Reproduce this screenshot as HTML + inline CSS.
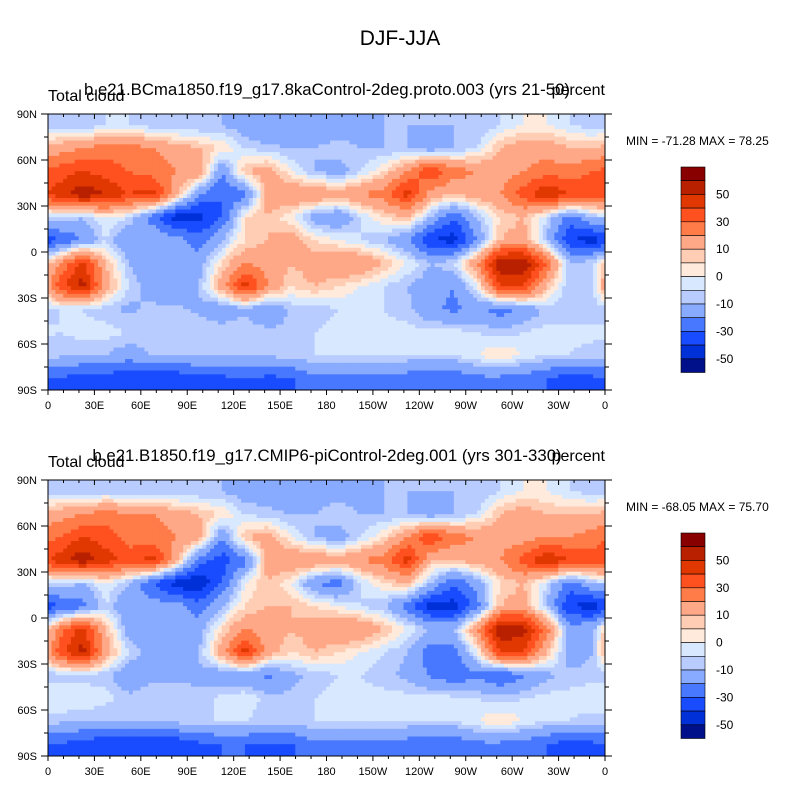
<!DOCTYPE html>
<html><head><meta charset="utf-8">
<style>
body{margin:0;background:#fff;}
svg text{font-family:"Liberation Sans",sans-serif;fill:#000;}
</style></head>
<body>
<svg id="fig" width="800" height="800" viewBox="0 0 800 800">
<defs>
<clipPath id="c1"><rect x="48" y="114" width="557" height="276"/></clipPath>
<clipPath id="c2"><rect x="48" y="480" width="557" height="276"/></clipPath>
</defs>
<text x="400" y="45" font-size="21" text-anchor="middle">DJF-JJA</text>
<g id="p1"></g>
<g id="p2"></g>
</svg>
<script>
const NS="http://www.w3.org/2000/svg";
const levels=[-50,-40,-30,-20,-10,-5,0,5,10,20,30,40,50,60];
const colors=["#00108a","#0030d8","#1a4cff","#4878ff","#88aaff","#b8ccff","#d8e8ff","#ffeadc","#ffccb4","#ffa888","#ff7b48","#ff5020","#e03800","#b82000","#880000"];
const lonTicks=["0","30E","60E","90E","120E","150E","180","150W","120W","90W","60W","30W","0"];
const latTicks=["90N","60N","30N","0","30S","60S","90S"];
const lats=[82.5,67.5,52.5,37.5,22.5,7.5,-7.5,-22.5,-37.5,-52.5,-67.5,-82.5];
const gridA=[
[-8,-10,-5,-5,-8,-10,-10,-10,-15,-20,-20,-20,-20,-15,-10,-10,-10,-10,-10,-5,0,0,-5,-8],
[15,20,25,25,20,15,10,5,-5,-8,-10,-10,-5,-10,-10,-10,-15,-10,-5,10,15,15,10,10],
[35,40,35,30,25,20,20,-20,10,15,0,-10,-15,-5,5,20,40,25,20,15,20,25,25,30],
[45,58,50,40,45,15,-20,-30,-25,15,20,20,15,20,25,45,15,10,15,20,35,50,40,35],
[-5,-10,0,-5,-25,-45,-45,-30,5,10,0,-15,-20,-5,5,10,-10,-30,-10,5,10,-5,-25,-10],
[-30,-20,-5,-20,-10,-15,-25,-10,5,10,15,5,0,-5,-10,-20,-40,-45,-20,10,15,-10,-40,-45],
[20,45,10,-10,-20,-10,-15,5,20,15,10,15,20,20,10,0,-10,-5,20,60,60,30,-10,-5],
[35,55,15,-5,-15,-20,-10,15,45,20,5,10,5,0,-5,-10,-15,-20,0,40,40,10,-10,-5],
[-5,-5,-8,-12,-8,-8,-12,-18,-12,-20,-8,-8,-5,-5,-5,-8,-18,-22,-18,-25,-18,-8,-8,-8],
[-5,-3,-3,-5,-5,-5,-5,-5,-5,-8,-8,-5,-3,-3,-3,-3,-3,-3,-5,-8,-5,-3,-3,-3],
[-8,-10,-10,-15,-10,-10,-10,-10,-10,-10,-5,-5,-5,-5,-5,-5,-5,-5,0,5,0,-5,-5,-8],
[-30,-35,-35,-38,-38,-38,-32,-32,-30,-32,-32,-22,-22,-22,-22,-25,-28,-28,-22,-22,-25,-30,-35,-32]];
const gridB=[
[-8,-10,-8,-8,-10,-10,-10,-10,-15,-15,-20,-15,-15,-15,-10,-10,-10,-10,-10,-5,0,0,-5,-8],
[15,20,25,20,20,15,10,5,-5,-8,-10,-10,-5,-10,-10,-10,-15,-10,-5,10,15,10,10,10],
[30,40,35,25,25,20,15,-20,10,15,0,-10,-15,-5,5,20,40,25,20,15,15,20,20,25],
[45,58,45,35,45,15,-25,-35,-25,15,20,20,15,20,25,45,10,10,15,20,35,50,40,35],
[-5,-10,0,-10,-30,-45,-50,-30,0,10,0,-20,-25,-5,5,10,-10,-30,-15,5,10,-5,-25,-10],
[-30,-25,-5,-20,-15,-15,-25,-10,5,10,10,5,0,-5,-10,-25,-45,-45,-25,10,15,-10,-40,-45],
[25,45,10,-15,-20,-10,-15,5,20,15,10,15,20,20,10,0,-10,-10,20,60,55,25,-15,-10],
[35,55,15,-5,-15,-20,-10,15,45,15,5,10,5,0,-5,-10,-25,-25,0,40,40,10,-15,-10],
[-8,-8,-8,-18,-12,-12,-12,-18,-18,-22,-12,-8,-5,-5,-8,-12,-22,-28,-22,-30,-22,-12,-8,-8],
[0,0,-3,-8,-5,-5,-8,-3,0,-8,-8,-5,-3,-3,-3,-3,-3,-3,-5,-8,-5,-3,-3,0],
[-8,-10,-10,-10,-10,-8,-5,-5,-5,-8,-5,-5,-5,-5,-5,-5,-5,-5,0,5,0,-5,-5,-8],
[-30,-35,-38,-38,-38,-38,-32,-30,-30,-32,-32,-22,-22,-22,-22,-25,-28,-28,-22,-22,-25,-30,-35,-32]];
const subtitles=["b.e21.BCma1850.f19_g17.8kaControl-2deg.proto.003 (yrs 21-50)","b.e21.B1850.f19_g17.CMIP6-piControl-2deg.001 (yrs 301-330)"];
const minmax=["MIN = -71.28 MAX =  78.25","MIN = -68.05 MAX =  75.70"];
const cbLabels=[50,30,10,0,-10,-30,-50];

function colorFor(v){let i=0;while(i<levels.length&&v>=levels[i])i++;return colors[i];}
function el(tag,attrs,parent){const e=document.createElementNS(NS,tag);for(const k in attrs)e.setAttribute(k,attrs[k]);parent.appendChild(e);return e;}
function sample(grid,lon,lat){
  const n=grid[0].length,m=grid.length;
  let cx=lon/15-0.5; let c0=Math.floor(cx); const fx=cx-c0;
  const ca=((c0%n)+n)%n, cb=(ca+1)%n;
  let ry=(82.5-lat)/15; ry=Math.max(0,Math.min(m-1,ry));
  const r0=Math.min(m-2,Math.floor(ry)), fy=ry-r0;
  const a=grid[r0][ca]*(1-fx)+grid[r0][cb]*fx;
  const b=grid[r0+1][ca]*(1-fx)+grid[r0+1][cb]*fx;
  return a*(1-fy)+b*fy;
}

function panel(g,grid,top,clip,sub,mm){
  const X0=48,X1=605,Y0=top,Y1=top+276;
  const xs=lon=>X0+(lon/360)*(X1-X0);
  const ys=lat=>Y0+((90-lat)/180)*(Y1-Y0);
  const cg=el("g",{"clip-path":"url(#"+clip+")"},g);
  
  
  const st=2.5;
  for(let lat=90;lat>-90;lat-=st){
    for(let lon=0;lon<360;lon+=st){
      const v=sample(grid,lon+st/2,lat-st/2);
      const rc=el("rect",{x:xs(lon)-0.3,y:ys(lat)-0.3,width:xs(st)-X0+0.6,height:ys(90-st)-Y0+0.6,fill:colorFor(v)},cg);
      
      
    }
  }
  const fr=el("rect",{x:X0,y:Y0,width:X1-X0,height:Y1-Y0,fill:"none",stroke:"#000","stroke-width":1},g);
  
  
  for(let lon=0;lon<=360;lon+=10){
    const major=lon%30===0,L=major?5:3,x=xs(lon);
    el("line",{x1:x,x2:x,y1:Y0,y2:Y0+L,stroke:"#000"},g);
    el("line",{x1:x,x2:x,y1:Y1,y2:Y1+L,stroke:"#000"},g);
  }
  lonTicks.forEach((t,i)=>{const tx=el("text",{x:xs(i*30),y:Y1+19,"font-size":11,"text-anchor":"middle"},g);tx.textContent=t;
    
    });
  for(let lat=-90;lat<=90;lat+=15){
    const major=lat%30===0,L=major?7:4,y=ys(lat);
    el("line",{x1:X0-L,x2:X0,y1:y,y2:y,stroke:"#000"},g);
    el("line",{x1:X1,x2:X1+L,y1:y,y2:y,stroke:"#000"},g);
  }
  latTicks.forEach((t,i)=>{const tx=el("text",{x:37,y:ys(90-i*30)+4,"font-size":11,"text-anchor":"end"},g);tx.textContent=t;
    
    });
  let t=el("text",{x:48,y:Y0-13,"font-size":16},g);t.textContent="Total cloud";
  
  
  t=el("text",{x:327,y:Y0-19,"font-size":16.8,"text-anchor":"middle"},g);t.textContent=sub;
  
  
  t=el("text",{x:605,y:Y0-19,"font-size":16,"text-anchor":"end"},g);t.textContent="percent";
  
  
  t=el("text",{x:626,y:Y0+31,"font-size":12},g);t.textContent=mm;
  
  
  const cbTop=Y0+53,bh=13.7,cx=681,cw=24;
  const cb=el("g",{},g);
  
  
  colors.slice().reverse().forEach((c,i)=>{el("rect",{x:cx,y:cbTop+i*bh,width:cw,height:bh,fill:c,stroke:"#000","stroke-width":0.6},cb);});
  const rl=levels.slice().reverse();
  cbLabels.forEach(v=>{const i=rl.indexOf(v)+1;const tx=el("text",{x:716,y:cbTop+i*bh+4,"font-size":12},cb);tx.textContent=v;
    
    });
}
panel(document.getElementById("p1"),gridA,114,"c1",subtitles[0],minmax[0]);
panel(document.getElementById("p2"),gridB,480,"c2",subtitles[1],minmax[1]);
</script>
</body></html>
